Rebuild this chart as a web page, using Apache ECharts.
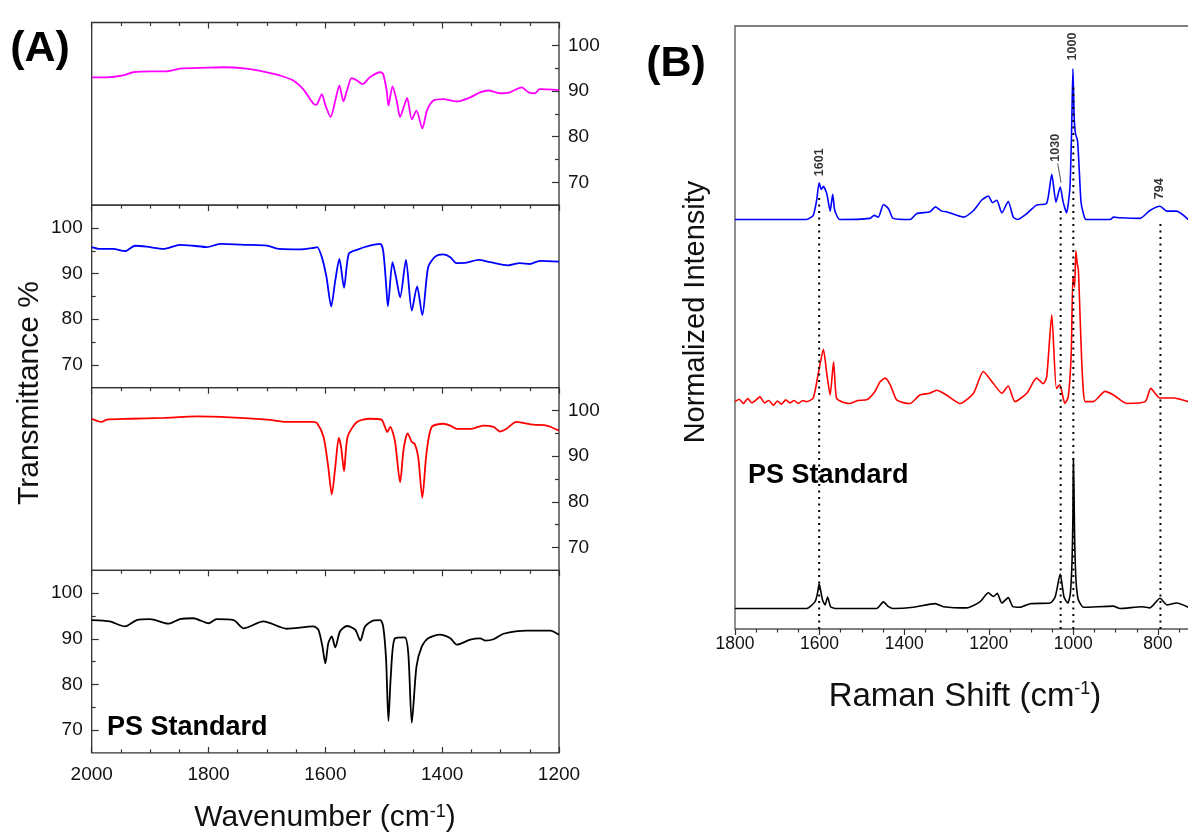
<!DOCTYPE html>
<html>
<head>
<meta charset="utf-8">
<title>PS Standard - FTIR / Raman</title>
<script src="https://cdn.jsdelivr.net/npm/echarts@6/dist/echarts.min.js"></script>
<style>
    html, body { margin: 0; padding: 0; background: #fff; }
    #main { width: 1188px; height: 836px; }
</style>
</head>
<body>
<div id="main"></div>
<script>
// (A) FTIR 谱图 [波数 cm-1, 透过率 %]，从上到下四条
var irMagenta = [[2000,93.0],[1974,93.0],[1946,93.4],[1929,94.1],[1900,94.3],[1872,94.3],[1849,94.9],[1801,95.1],[1775,95.2],[1735,94.9],[1700,94.1],[1678,93.4],[1655,92.3],[1638,90.4],[1626,88.2],[1618,87.0],[1614,87.1],[1606,89.3],[1600,86.9],[1591,84.3],[1583,87.9],[1576,91.2],[1569,87.7],[1563,90.1],[1555,92.8],[1546,92.3],[1536,91.5],[1524,93.0],[1506,94.1],[1501,93.7],[1495,90.1],[1492,86.8],[1485,91.0],[1478,87.9],[1472,84.3],[1466,86.4],[1460,88.5],[1452,83.8],[1444,85.7],[1434,81.8],[1426,85.7],[1415,87.9],[1398,88.2],[1375,87.7],[1352,88.6],[1335,89.7],[1321,90.1],[1301,89.5],[1284,89.7],[1264,90.8],[1252,89.7],[1241,89.5],[1233,90.4],[1200,90.2]];
var irBlue = [[2000,95.8],[1986,95.4],[1963,95.4],[1943,94.9],[1926,96.1],[1906,95.9],[1877,95.4],[1849,96.3],[1826,96.1],[1803,95.8],[1780,96.5],[1735,96.3],[1700,96.1],[1678,95.4],[1643,95.3],[1621,95.6],[1614,95.8],[1606,93.6],[1598,89.2],[1590,82.8],[1583,88.5],[1576,93.2],[1568,86.9],[1560,94.3],[1546,95.2],[1524,96.1],[1506,96.5],[1501,95.0],[1496,87.7],[1493,82.8],[1485,92.5],[1479,89.2],[1472,84.8],[1462,93.0],[1452,81.9],[1443,87.2],[1434,80.9],[1424,91.4],[1412,93.7],[1398,94.2],[1386,93.6],[1376,92.3],[1358,92.4],[1338,93.0],[1318,92.5],[1287,91.8],[1267,92.3],[1250,92.1],[1233,92.8],[1200,92.6]];
var irRed = [[2000,98.2],[1983,97.5],[1974,98.0],[1934,98.2],[1877,98.4],[1820,98.7],[1763,98.5],[1700,98.0],[1666,97.5],[1621,97.5],[1614,97.2],[1603,94.2],[1595,87.6],[1589,81.6],[1583,87.6],[1577,94.0],[1573,92.0],[1568,86.7],[1562,94.2],[1546,97.5],[1524,98.2],[1504,98.0],[1498,96.4],[1494,95.3],[1489,96.4],[1481,93.4],[1472,84.3],[1466,91.6],[1459,95.0],[1452,93.1],[1447,92.7],[1441,89.8],[1434,80.9],[1427,90.5],[1418,96.4],[1398,97.1],[1386,96.7],[1375,96.0],[1350,96.0],[1330,96.7],[1312,96.4],[1301,95.4],[1290,96.0],[1273,97.5],[1244,96.9],[1221,96.7],[1200,95.6]];
var irBlack = [[2000,94.1],[1969,93.8],[1943,92.7],[1923,94.1],[1900,94.3],[1869,93.3],[1849,94.3],[1826,94.5],[1800,93.4],[1786,94.3],[1757,94.1],[1740,92.3],[1706,93.8],[1666,92.2],[1621,92.7],[1612,92.0],[1605,88.3],[1600,84.6],[1595,89.0],[1589,90.5],[1583,88.1],[1575,91.6],[1563,92.8],[1549,92.0],[1540,89.6],[1532,92.7],[1518,94.0],[1506,94.1],[1501,92.7],[1496,85.4],[1492,72.0],[1488,81.7],[1481,90.1],[1464,90.3],[1458,86.8],[1452,71.6],[1444,83.9],[1435,88.3],[1424,90.1],[1404,90.9],[1386,90.1],[1375,88.7],[1352,89.8],[1335,90.1],[1326,89.6],[1312,89.9],[1295,91.1],[1255,91.8],[1215,91.8],[1200,90.9]];
var irMajorTicks = [70, 80, 90, 100];
var irMinorTicks = [75, 85, 95];

// (B) 拉曼谱图 [拉曼位移 cm-1, 归一化强度]，基线为 0
var ramanBlack = [[1800,0],[1631,0],[1611,1.1],[1605,2.5],[1601,4.1],[1593,1.4],[1587,0.6],[1581,1.9],[1574,0.3],[1560,0],[1465,0],[1449,1.1],[1437,0.3],[1426,0],[1378,0.2],[1327,0.8],[1307,0.3],[1252,0.1],[1221,1.1],[1201,2.6],[1189,2.0],[1180,2.5],[1169,0.9],[1154,1.8],[1143,0.3],[1126,0.2],[1102,0.8],[1055,0.9],[1043,1.9],[1031,5.7],[1022,1.9],[1013,0.9],[1007,2.5],[1003,8],[1001,15.2],[1000,24.9],[998.5,20],[997,12],[994,5],[990,2],[986,1.1],[976,0.2],[906,0.4],[890,0],[838,0.3],[819,0.1],[795,1.7],[779,0.6],[756,0.9],[728,0.2]];
var ramanRed = [[1800,0],[1790,0.4],[1780,-0.3],[1770,0.5],[1760,-0.2],[1750,0.3],[1741,0.8],[1730,-0.2],[1720,0.2],[1709,-0.6],[1700,0.1],[1690,-0.4],[1680,0.3],[1670,-0.2],[1660,0.2],[1650,-0.3],[1640,0.2],[1631,0],[1615,0.6],[1603,4.7],[1591,8.7],[1583,4.7],[1575,1.1],[1567,6.6],[1560,0.6],[1545,-0.1],[1528,-0.3],[1510,0.2],[1489,0.3],[1469,1.7],[1457,3.3],[1445,3.9],[1433,2.8],[1418,0.3],[1400,-0.2],[1386,-0.3],[1363,1.1],[1340,1.4],[1323,1.9],[1300,1.1],[1268,-0.3],[1236,1.4],[1213,5.0],[1189,3.0],[1169,1.4],[1154,2.6],[1138,0],[1110,1.4],[1087,3.9],[1071,3.0],[1063,4.1],[1051,14.4],[1040,2.2],[1032,2.8],[1020,-0.3],[1012,0.8],[1005,8],[1001,20.7],[997,19],[994,25.0],[991,23],[988,21.8],[984,14],[980,6.4],[976,1.5],[972,0],[953,0],[925,1.7],[905,1.1],[874,-0.3],[830,0],[817,2.2],[795,0.6],[763,0.6],[728,0]];
var ramanBlue = [[1800,0],[1631,0],[1615,0.7],[1607,3.2],[1601,6.1],[1596,5.0],[1591,5.5],[1583,4.3],[1575,1.4],[1569,4.2],[1564,1.5],[1552,0],[1481,0.2],[1471,0.7],[1461,0.4],[1449,2.5],[1437,1.8],[1426,0.2],[1386,0],[1370,1.0],[1339,1.3],[1326,2.1],[1311,1.4],[1300,1.3],[1260,0.4],[1236,1.5],[1217,3.2],[1201,3.9],[1191,2.8],[1181,3.2],[1169,1.1],[1154,3.0],[1142,0.4],[1132,0],[1110,1.0],[1087,2.4],[1063,2.7],[1051,7.5],[1041,2.9],[1031,5.4],[1024,2.9],[1016,1.1],[1008,5.4],[1004,15],[1001,25.0],[998,17],[995,14.3],[990,13],[986,8.2],[982,3],[977,1.2],[970,0],[913,0],[905,0.4],[890,0.3],[842,0.2],[819,1.5],[795,2.2],[779,1.4],[756,1.4],[728,0]];
var ramanOffsets = [3.4, 37.7, 67.9]; // 黑、红、蓝 的竖直偏移

// 特征峰标注
var peakShifts = [1601, 1030, 1000, 794];
var peakLineTops = [71.6, 70.0, 90.0, 67.3];
var peakLabels = ['1601', '1030', '1000', '794'];
var peakLabelAt = [[1601, 77.4], [1041, 79.8], [1001, 96.6], [795, 73.0]];
var leader1030 = [[1037, 77.2], [1029, 74.0]];

var FONT = "'Liberation Sans', Arial, sans-serif";
var AXIS_COLOR = '#333';

var chart = echarts.init(document.getElementById('main'));

// 刻度数字不要千分位
function plainNum(v) {
    return String(v);
}

// 左图四个面板
var irData = [irMagenta, irBlue, irRed, irBlack];
var irColors = ['#ff00ff', '#0000ff', '#ff0000', '#000000'];
var irSides = ['right', 'left', 'right', 'left'];
var panelTop = 22.5, panelH = 182.6;

var grids = [], xAxes = [], yAxes = [], series = [];

for (var i = 0; i < 4; i++) {
    grids.push({
        left: 91.7, width: 467.3, top: panelTop + i * panelH, height: panelH,
        outerBoundsMode: 'none', containLabel: false,
        show: true, borderColor: AXIS_COLOR, borderWidth: 1.3, backgroundColor: 'transparent'
    });
    // 顶边刻度
    xAxes.push({
        type: 'value', gridIndex: i, position: 'top', inverse: true,
        min: 1200, max: 2000, interval: 200,
        axisLine: { show: false },
        axisTick: { inside: true, length: 6, lineStyle: { color: AXIS_COLOR, width: 1.2 } },
        minorTick: { show: true, splitNumber: 4, length: 3.5, lineStyle: { color: AXIS_COLOR, width: 1.2 } },
        axisLabel: { show: false },
        splitLine: { show: false }
    });
    // 主刻度 + 数字
    yAxes.push({
        type: 'value', gridIndex: i, position: irSides[i], min: 65, max: 105,
        axisLine: { show: false },
        axisTick: { show: true, inside: true, length: 7, customValues: irMajorTicks,
            lineStyle: { color: AXIS_COLOR, width: 1.2 } },
        axisLabel: { show: true, customValues: irMajorTicks, fontSize: 19, color: '#111',
            fontFamily: FONT, margin: 9, formatter: plainNum },
        splitLine: { show: false }
    });
    // 次刻度
    yAxes.push({
        type: 'value', gridIndex: i, position: irSides[i], min: 65, max: 105,
        axisLine: { show: false },
        axisTick: { show: true, inside: true, length: 4, customValues: irMinorTicks,
            lineStyle: { color: AXIS_COLOR, width: 1.2 } },
        axisLabel: { show: false },
        splitLine: { show: false }
    });
    series.push({
        type: 'line', xAxisIndex: i, yAxisIndex: i * 2,
        data: irData[i], showSymbol: false, smooth: 0.25, silent: true,
        lineStyle: { color: irColors[i], width: 1.8 }
    });
}

// 最下面面板的底边（带数字）
xAxes.push({
    type: 'value', gridIndex: 3, position: 'bottom', inverse: true,
    min: 1200, max: 2000, interval: 200,
    axisLine: { show: false },
    axisTick: { inside: true, length: 6, lineStyle: { color: AXIS_COLOR, width: 1.2 } },
    minorTick: { show: true, splitNumber: 4, length: 3.5, lineStyle: { color: AXIS_COLOR, width: 1.2 } },
    axisLabel: { fontSize: 19, color: '#111', fontFamily: FONT, margin: 12, formatter: plainNum },
    splitLine: { show: false }
});

// 右图 拉曼（右侧被裁掉，所以网格伸出画布）
grids.push({
    left: 735, top: 26, width: 507.5, height: 603,
    outerBoundsMode: 'none', containLabel: false,
    show: true, borderColor: '#555', borderWidth: 1.3, backgroundColor: 'transparent'
});
xAxes.push({
    type: 'value', gridIndex: 4, position: 'bottom', inverse: true,
    min: 600, max: 1800, interval: 200,
    axisLine: { show: false },
    axisTick: { inside: false, length: 6, lineStyle: { color: AXIS_COLOR, width: 1.2 } },
    minorTick: { show: true, splitNumber: 4, length: 3.5, lineStyle: { color: AXIS_COLOR, width: 1.2 } },
    axisLabel: { fontSize: 17.5, color: '#111', fontFamily: FONT, margin: 6, formatter: plainNum },
    splitLine: { show: false }
});
yAxes.push({ type: 'value', gridIndex: 4, min: 0, max: 100, show: false });

var ramanX = 5, ramanY = 8;
var ramanData = [ramanBlack, ramanRed, ramanBlue];
var ramanColors = ['#000000', '#ff0000', '#0000ff'];

for (var k = 0; k < 3; k++) {
    series.push({
        type: 'line', xAxisIndex: ramanX, yAxisIndex: ramanY, silent: true,
        data: ramanData[k].map(function (p) { return [p[0], p[1] + ramanOffsets[k]]; }),
        showSymbol: false, smooth: 0.2,
        lineStyle: { color: ramanColors[k], width: 1.6 }
    });
}

// 点线
peakShifts.forEach(function (s, j) {
    series.push({
        type: 'line', xAxisIndex: ramanX, yAxisIndex: ramanY, silent: true, z: 5,
        data: [[s, 0], [s, peakLineTops[j]]], showSymbol: false,
        lineStyle: { color: '#000', width: 2, type: [2, 4.5] }
    });
});

// 1030 引线
series.push({
    type: 'line', xAxisIndex: ramanX, yAxisIndex: ramanY, silent: true,
    data: leader1030, showSymbol: false,
    lineStyle: { color: '#555', width: 1 }
});

// 峰位数字
series.push({
    type: 'scatter', xAxisIndex: ramanX, yAxisIndex: ramanY, silent: true, z: 6,
    data: peakLabelAt, symbol: 'rect', symbolSize: 1,
    itemStyle: { color: 'rgba(0,0,0,0)' },
    label: {
        show: true, position: 'inside', rotate: 90,
        fontSize: 12.5, fontWeight: 'bold', color: '#000', fontFamily: FONT,
        formatter: function (p) { return peakLabels[p.dataIndex]; }
    }
});

var supRich = {
    sup: { fontSize: 18, verticalAlign: 'top', fontFamily: FONT, padding: [0, 0, 12, 0] }
};

chart.setOption({
    animation: false,
    backgroundColor: '#fff',
    grid: grids,
    xAxis: xAxes,
    yAxis: yAxes,
    series: series,
    graphic: [
        { type: 'text', x: 40, y: 49, style: { text: '(A)', font: 'bold 43px ' + FONT, fill: '#000', align: 'center', verticalAlign: 'middle' } },
        { type: 'text', x: 676, y: 64, style: { text: '(B)', font: 'bold 43px ' + FONT, fill: '#000', align: 'center', verticalAlign: 'middle' } },
        { type: 'text', x: 30, y: 393, rotation: Math.PI / 2, style: { text: 'Transmittance %', font: '30px ' + FONT, fill: '#111', align: 'center', verticalAlign: 'middle' } },
        { type: 'text', x: 325, y: 818, style: { text: 'Wavenumber (cm{sup|-1})', font: '30px ' + FONT, fill: '#111', align: 'center', verticalAlign: 'middle', rich: supRich } },
        { type: 'text', x: 107, y: 728, style: { text: 'PS Standard', font: 'bold 27px ' + FONT, fill: '#000', align: 'left', verticalAlign: 'middle' } },
        { type: 'text', x: 696, y: 312, rotation: Math.PI / 2, style: { text: 'Normalized Intensity', font: '29px ' + FONT, fill: '#111', align: 'center', verticalAlign: 'middle' } },
        { type: 'text', x: 965, y: 697, style: { text: 'Raman Shift (cm{sup|-1})', font: '33px ' + FONT, fill: '#111', align: 'center', verticalAlign: 'middle', rich: supRich } },
        { type: 'text', x: 748, y: 476, style: { text: 'PS Standard', font: 'bold 27px ' + FONT, fill: '#000', align: 'left', verticalAlign: 'middle' } }
    ]
});
</script>
</body>
</html>
